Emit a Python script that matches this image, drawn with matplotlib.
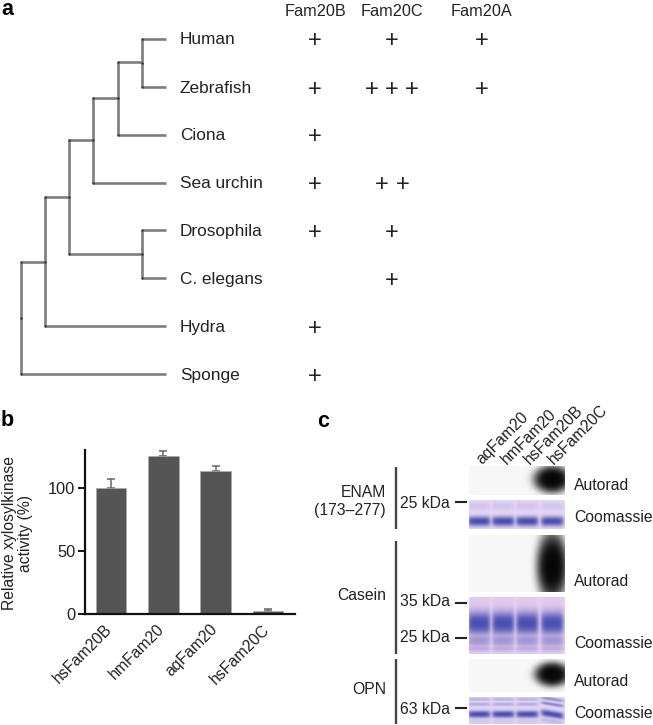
import numpy as np
import matplotlib
matplotlib.use("Agg")
import matplotlib.pyplot as plt

plt.rcParams['font.family'] = ['Liberation Sans', 'DejaVu Sans']
W, H = 653, 725
FS_A = 12.4
FS_H = 11.7
FS = 11.3
DK = '#222222'

# ---------- panel a data ----------
species = ['Human', 'Zebrafish', 'Ciona', 'Sea urchin', 'Drosophila', 'C. elegans', 'Hydra', 'Sponge']
leaf_y = [38.5, 87, 134.5, 182.5, 230, 278, 326, 374]
# (x of node, top y, bottom y)
tree_vert = [(141.5, 38.5, 87), (117.5, 62, 134.5), (93, 98, 182.5), (141.5, 230, 278),
             (69, 140, 254), (45, 197, 326), (21, 262, 374)]
# (x start, x end, y)
tree_horiz = [(141.5, 166, 38.5), (141.5, 166, 87), (117.5, 141.5, 62), (117.5, 166, 134.5),
              (93, 117.5, 98), (93, 166, 182.5), (69, 93, 140), (141.5, 166, 230), (141.5, 166, 278),
              (69, 141.5, 254), (45, 69, 197), (45, 166, 326), (21, 45, 262), (21, 166, 374)]
families = ['Fam20B', 'Fam20C', 'Fam20A']
family_x = [315, 392, 482]
fam_b_rows = [0, 1, 2, 3, 4, 6, 7]
fam_c_marks = [(392, 0), (372, 1), (392, 1), (412, 1), (382, 3), (403, 3), (392, 4), (392, 5)]
fam_a_rows = [0, 1]

# ---------- panel b data ----------
bar_names = ['hsFam20B', 'hmFam20', 'aqFam20', 'hsFam20C']
bar_vals = [100, 125.5, 113, 2.5]
bar_errs = [7, 4, 4.5, 1.5]
y_ticks = [0, 50, 100]

# ---------- panel c data ----------
lanes = ['aqFam20', 'hmFam20', 'hsFam20B', 'hsFam20C']
lane_label_x = [484, 509, 532, 556]
lane_x = [479, 503, 527, 552]
gel_x = (469, 565)
autorads = [  # top, bottom, blob centre y, rx, ry
    (466, 495, 479, 19, 14), (535, 592, 566, 16, 36), (659, 692, 674, 18, 12.5)]
coomassie_bg = ['#e6d8f4', '#e9d4f3', '#e2d8f4']
lane_tint = [0.06, 0.22, 0.08]
lane_tilt = [0.0, 0.0, 0.16]
coomassie = [  # top, bottom, bands (y, half-thickness, strength)
    (500, 529, [(521, 4.8, 1.0), (506, 4, 0.12)]),
    (597, 654, [(623, 11.5, 1.0), (640, 6.5, 0.42), (648, 3, 0.25)]),
    (697, 724, [(714, 3.4, 1.0), (699, 1.6, 0.25), (704, 1.6, 0.3), (721, 2.5, 0.1)])]
brackets = [(396, 467, 529), (396, 541, 654), (396, 659, 724)]
left_labels = [('ENAM', 492), ('(173–277)', 511), ('Casein', 596), ('OPN', 690)]
kda_labels = [('25 kDa', 503, 501.5), ('35 kDa', 602, 602.5), ('25 kDa', 638, 638), ('63 kDa', 709, 708)]
right_labels = [('Autorad', 485), ('Coomassie', 518), ('Autorad', 582),
                ('Coomassie', 643), ('Autorad', 681), ('Coomassie', 713)]

fig = plt.figure(figsize=(W / 100, H / 100), dpi=100)
ov = fig.add_axes([0, 0, 1, 1])
ov.set_xlim(0, W)
ov.set_ylim(H, 0)
ov.axis('off')

# panel letters
for s, x, y in [('a', 1, 9), ('b', 1, 420), ('c', 317, 421)]:
    ov.text(x, y, s, fontsize=15.5, fontweight='bold', va='center', ha='left', color='black')

# tree
GR = '#7d7d7d'
for x, y0, y1 in tree_vert:
    ov.plot([x, x], [y0, y1], color=GR, lw=1.9, solid_capstyle='butt')
for x0, x1, y in tree_horiz:
    ov.plot([x0, x1], [y, y], color=GR, lw=1.9, solid_capstyle='butt')
node_pts = sorted({(x, y) for x, y0, y1 in tree_vert for y in (y0, y1, (y0 + y1) / 2)})
ov.scatter([p[0] for p in node_pts], [p[1] for p in node_pts], s=3, color='#333333', zorder=3, lw=0)
for name, y in zip(species, leaf_y):
    ov.text(180, y + 1, name, fontsize=FS_A, va='center', ha='left', color=DK)
for name, x in zip(families, family_x):
    ov.text(x, 11, name, fontsize=FS_H, va='center', ha='center', color=DK)
plus = dict(fontsize=17, va='center', ha='center', color=DK)
for r in fam_b_rows:
    ov.text(family_x[0], leaf_y[r] + 2.5, '+', **plus)
for x, r in fam_c_marks:
    ov.text(x, leaf_y[r] + 2.5, '+', **plus)
for r in fam_a_rows:
    ov.text(family_x[2], leaf_y[r] + 2.5, '+', **plus)

# panel b
L, R, T, B = 85, 295, 450, 614
ax = fig.add_axes([L / W, 1 - B / H, (R - L) / W, (B - T) / H])
ax.patch.set_alpha(0)
xs = np.arange(len(bar_names))
ax.bar(xs, bar_vals, width=0.585, color='#555555', edgecolor='#aaaaaa', linewidth=0.5, zorder=2)
ax.errorbar(xs, bar_vals, yerr=[np.zeros(4), bar_errs], fmt='none', ecolor='#666666',
            elinewidth=1.1, capsize=3, capthick=1.1, zorder=1)
ax.set_xlim(-0.497, 3.518)
ax.set_ylim(0, 130)
ax.set_yticks(y_ticks)
ax.set_xticks(xs)
ax.set_xticklabels([''] * len(xs))
for x, name in zip(xs, bar_names):
    ax.annotate(name, xy=(x, 0), xycoords=('data', 'axes fraction'), xytext=(-4.5, -5.5),
                textcoords='offset points', rotation=45, ha='right', va='top',
                rotation_mode='anchor', fontsize=FS, color=DK, annotation_clip=False)
ax.tick_params(axis='x', length=0)
ax.tick_params(axis='y', length=5, width=1.3, pad=2, labelsize=FS + 0.5, labelcolor=DK)
for s in ('top', 'right'):
    ax.spines[s].set_visible(False)
for s in ('left', 'bottom'):
    ax.spines[s].set_linewidth(1.6)
    ax.spines[s].set_color('#111111')
ov.text(17.5, 533, 'Relative xylosylkinase\nactivity (%)', rotation=90, fontsize=FS, va='center',
        ha='center', multialignment='center', color=DK, linespacing=1.15)

# panel c
for name, x in zip(lanes, lane_label_x):
    ov.text(x, 467, name, rotation=45, rotation_mode='anchor', fontsize=FS, ha='left', va='bottom', color=DK)

def show(img, top, bot):
    ov.imshow(img, extent=(gel_x[0], gel_x[1], bot, top), aspect='auto', interpolation='bilinear', zorder=1)

for (top, bot, cy, rx, ry) in autorads:
    yy, xx = np.mgrid[top:bot:0.5, gel_x[0]:gel_x[1]:0.5]
    d = ((xx - lane_x[3]) / rx) ** 2 + ((yy - cy) / ry) ** 2
    dark = np.exp(-d ** 2.0)
    g = 0.97 * (1 - dark) + 0.03 * dark
    show(np.dstack([g, g, g]), top, bot)

band = np.array(matplotlib.colors.to_rgb('#4a4fb0'))
tint = np.array(matplotlib.colors.to_rgb('#c4a8e0'))
for (top, bot, bands), bg, lt, tilt in zip(coomassie, coomassie_bg, lane_tint, lane_tilt):
    yy, xx = np.mgrid[top:bot:0.5, gel_x[0]:gel_x[1]:0.5]
    a = np.zeros_like(xx)
    t = np.zeros_like(xx)
    for i, lx in enumerate(lane_x):
        lane_mask = np.exp(-(np.abs(xx - lx) / 11.5) ** 6)
        t = np.maximum(t, lt * lane_mask)
        shift = tilt * (xx - lx) if i == 3 else 0
        for by, th, st in bands:
            if i == 3 and tilt:
                st = min(1, st * 2)
            a = np.maximum(a, st * lane_mask * np.exp(-(np.abs(yy - by - shift) / th) ** 2.4))
    bgc = np.array(matplotlib.colors.to_rgb(bg))
    base = bgc[None, None, :] * (1 - t[..., None]) + tint[None, None, :] * t[..., None]
    img = base * (1 - a[..., None]) + band[None, None, :] * a[..., None]
    show(img, top, bot)
ov.set_xlim(0, W)
ov.set_ylim(H, 0)

for x, y0, y1 in brackets:
    ov.plot([x, x], [y0, y1], color='#444444', lw=1.7, solid_capstyle='butt')
for s, y in left_labels:
    ov.text(386, y, s, fontsize=FS, ha='right', va='center', color=DK)
for s, y, dy in kda_labels:
    ov.text(450, y, s, fontsize=FS, ha='right', va='center', color=DK)
    ov.plot([455, 467], [dy, dy], color='#222222', lw=1.5, solid_capstyle='butt')
for s, y in right_labels:
    ov.text(574, y, s, fontsize=FS, ha='left', va='center', color=DK)

fig.savefig('out.png', dpi=100)
